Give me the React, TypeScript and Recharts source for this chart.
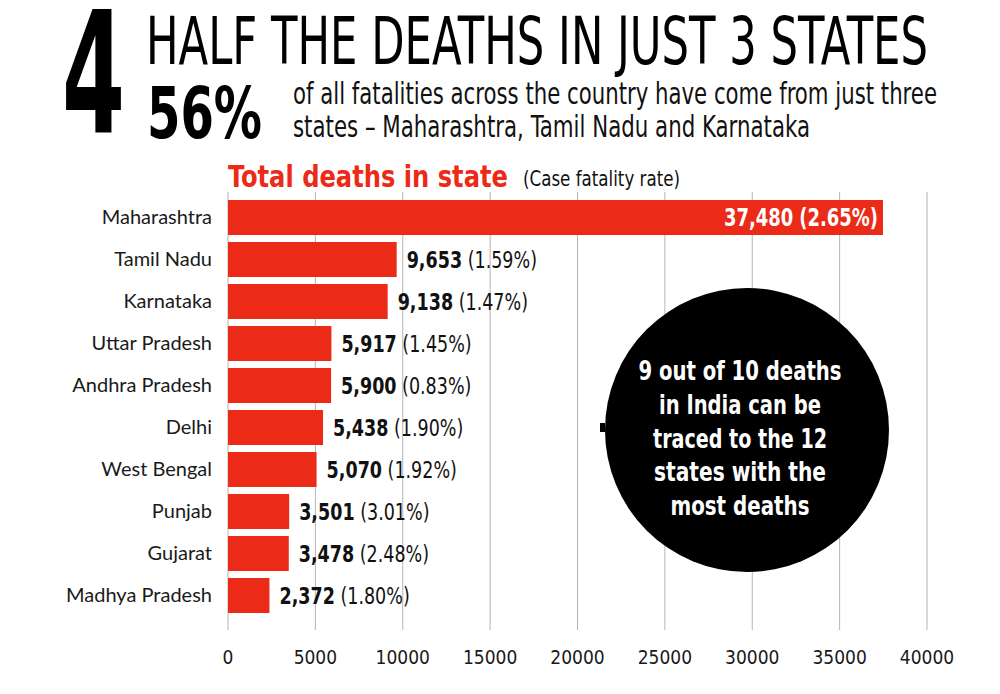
import React from "react"
import { BarChart, Bar, XAxis, YAxis, CartesianGrid, LabelList } from "recharts"

// States with the most COVID deaths, and their case fatality rate
const states = [
  "Maharashtra",
  "Tamil Nadu",
  "Karnataka",
  "Uttar Pradesh",
  "Andhra Pradesh",
  "Delhi",
  "West Bengal",
  "Punjab",
  "Gujarat",
  "Madhya Pradesh",
]
const deaths = [37480, 9653, 9138, 5917, 5900, 5438, 5070, 3501, 3478, 2372]
const fatalityRates = ["2.65%", "1.59%", "1.47%", "1.45%", "0.83%", "1.90%", "1.92%", "3.01%", "2.48%", "1.80%"]
const xTicks = [0, 5000, 10000, 15000, 20000, 25000, 30000, 35000, 40000]

const data = states.map((state, i) => ({ state, deaths: deaths[i], cfr: fatalityRates[i] }))

const RED = "#ec2a18"
const NARROW = "'Liberation Sans Narrow', 'DejaVu Sans Condensed', 'Roboto Condensed', Roboto, sans-serif"
const LABEL_FONT = "Lato, 'Open Sans', sans-serif"

const fmt = (v: number) => v.toLocaleString("en-US")

// circle note, with the width each line takes in the original
const noteLines = ["9 out of 10 deaths", "in India can be", "traced to the 12", "states with the", "most deaths"]
const noteWidths = [203, 162, 174, 172, 139]

function StateTick(props: any) {
  const { y, payload } = props
  return (
    <text x={212} y={y + 7} textAnchor="end" fontFamily={LABEL_FONT} fontSize={20} fill="#1a1a1a">
      {payload.value}
    </text>
  )
}

function ValueTick(props: any) {
  const { x, y, payload } = props
  return (
    <text x={x} y={y + 32} textAnchor="middle" fontFamily={NARROW} fontSize={19} fill="#1a1a1a">
      {payload.value}
    </text>
  )
}

function BarLabel(props: any) {
  const { x, y, width, height, index } = props
  const row = data[index]
  const num = fmt(row.deaths)
  const cy = y + height / 2 + 8
  if (index === 0) {
    const txt = `${num} (${row.cfr})`
    return (
      <text
        x={x + width - 5}
        y={cy}
        textAnchor="end"
        fontFamily={NARROW}
        fontWeight="bold"
        fontSize={24}
        fill="#fff"
        textLength={txt.length * 11}
        lengthAdjust="spacingAndGlyphs"
      >
        {txt}
      </text>
    )
  }
  const len = num.length * 11 + 6 + (row.cfr.length + 2) * 9.9
  return (
    <text
      x={x + width + 10}
      y={cy}
      fontFamily={NARROW}
      fontSize={23}
      fill="#111"
      textLength={len}
      lengthAdjust="spacingAndGlyphs"
    >
      <tspan fontWeight="bold">{num}</tspan>
      <tspan>{` (${row.cfr})`}</tspan>
    </text>
  )
}

export default function App() {
  return (
    <div style={{ position: "absolute", left: 0, top: 0, width: 1000, height: 694, background: "#fff" }}>
      <BarChart
        width={1000}
        height={694}
        data={data}
        layout="vertical"
        margin={{ top: 192, right: 73, left: 0, bottom: 34 }}
      >
        <CartesianGrid horizontal={false} stroke="#b5b5b5" />
        <XAxis
          type="number"
          domain={[0, 40000]}
          ticks={xTicks}
          axisLine={false}
          tickLine={false}
          tickSize={0}
          height={30}
          tick={<ValueTick />}
          interval={0}
        />
        <YAxis
          type="category"
          dataKey="state"
          width={228}
          axisLine={false}
          tickLine={false}
          padding={{ top: 4, bottom: 14 }}
          tick={<StateTick />}
          interval={0}
        />
        <Bar dataKey="deaths" fill={RED} barSize={35} isAnimationActive={false}>
          <LabelList dataKey="deaths" content={<BarLabel />} />
        </Bar>
      </BarChart>

      <svg
        width={1000}
        height={694}
        style={{ position: "absolute", left: 0, top: 0, pointerEvents: "none" }}
      >
        <text x={62} y={133} fontFamily={NARROW} fontWeight="bold" fontSize={169} textLength={63} lengthAdjust="spacingAndGlyphs" fill="#000">
          4
        </text>
        <text x={146} y={64} fontFamily={NARROW} fontSize={66} textLength={782} lengthAdjust="spacingAndGlyphs" fill="#000">
          HALF THE DEATHS IN JUST 3 STATES
        </text>
        <text x={147} y={138} fontFamily={NARROW} fontWeight="bold" fontSize={72} textLength={115} lengthAdjust="spacingAndGlyphs" fill="#000">
          56%
        </text>
        <text x={293} y={104} fontFamily={NARROW} fontSize={30} textLength={644} lengthAdjust="spacingAndGlyphs" fill="#111">
          of all fatalities across the country have come from just three
        </text>
        <text x={293} y={137} fontFamily={NARROW} fontSize={30} textLength={517} lengthAdjust="spacingAndGlyphs" fill="#111">
          states – Maharashtra, Tamil Nadu and Karnataka
        </text>
        <text x={228} y={187} fontFamily={NARROW} fontWeight="bold" fontSize={30} textLength={280} lengthAdjust="spacingAndGlyphs" fill={RED}>
          Total deaths in state
        </text>
        <text x={523} y={186} fontFamily={NARROW} fontSize={21} textLength={157} lengthAdjust="spacingAndGlyphs" fill="#111">
          (Case fatality rate)
        </text>

        <rect x={600} y={423} width={5} height={9} fill="#000" />
        <circle cx={747} cy={430} r={142} fill="#000" />
        <g fontFamily={NARROW} fontWeight="bold" fontSize={26} fill="#fff" textAnchor="middle">
          {noteLines.map((line, i) => (
            <text key={line} x={740} y={380 + i * 33.8} textLength={noteWidths[i]} lengthAdjust="spacingAndGlyphs">
              {line}
            </text>
          ))}
        </g>
      </svg>
    </div>
  )
}
